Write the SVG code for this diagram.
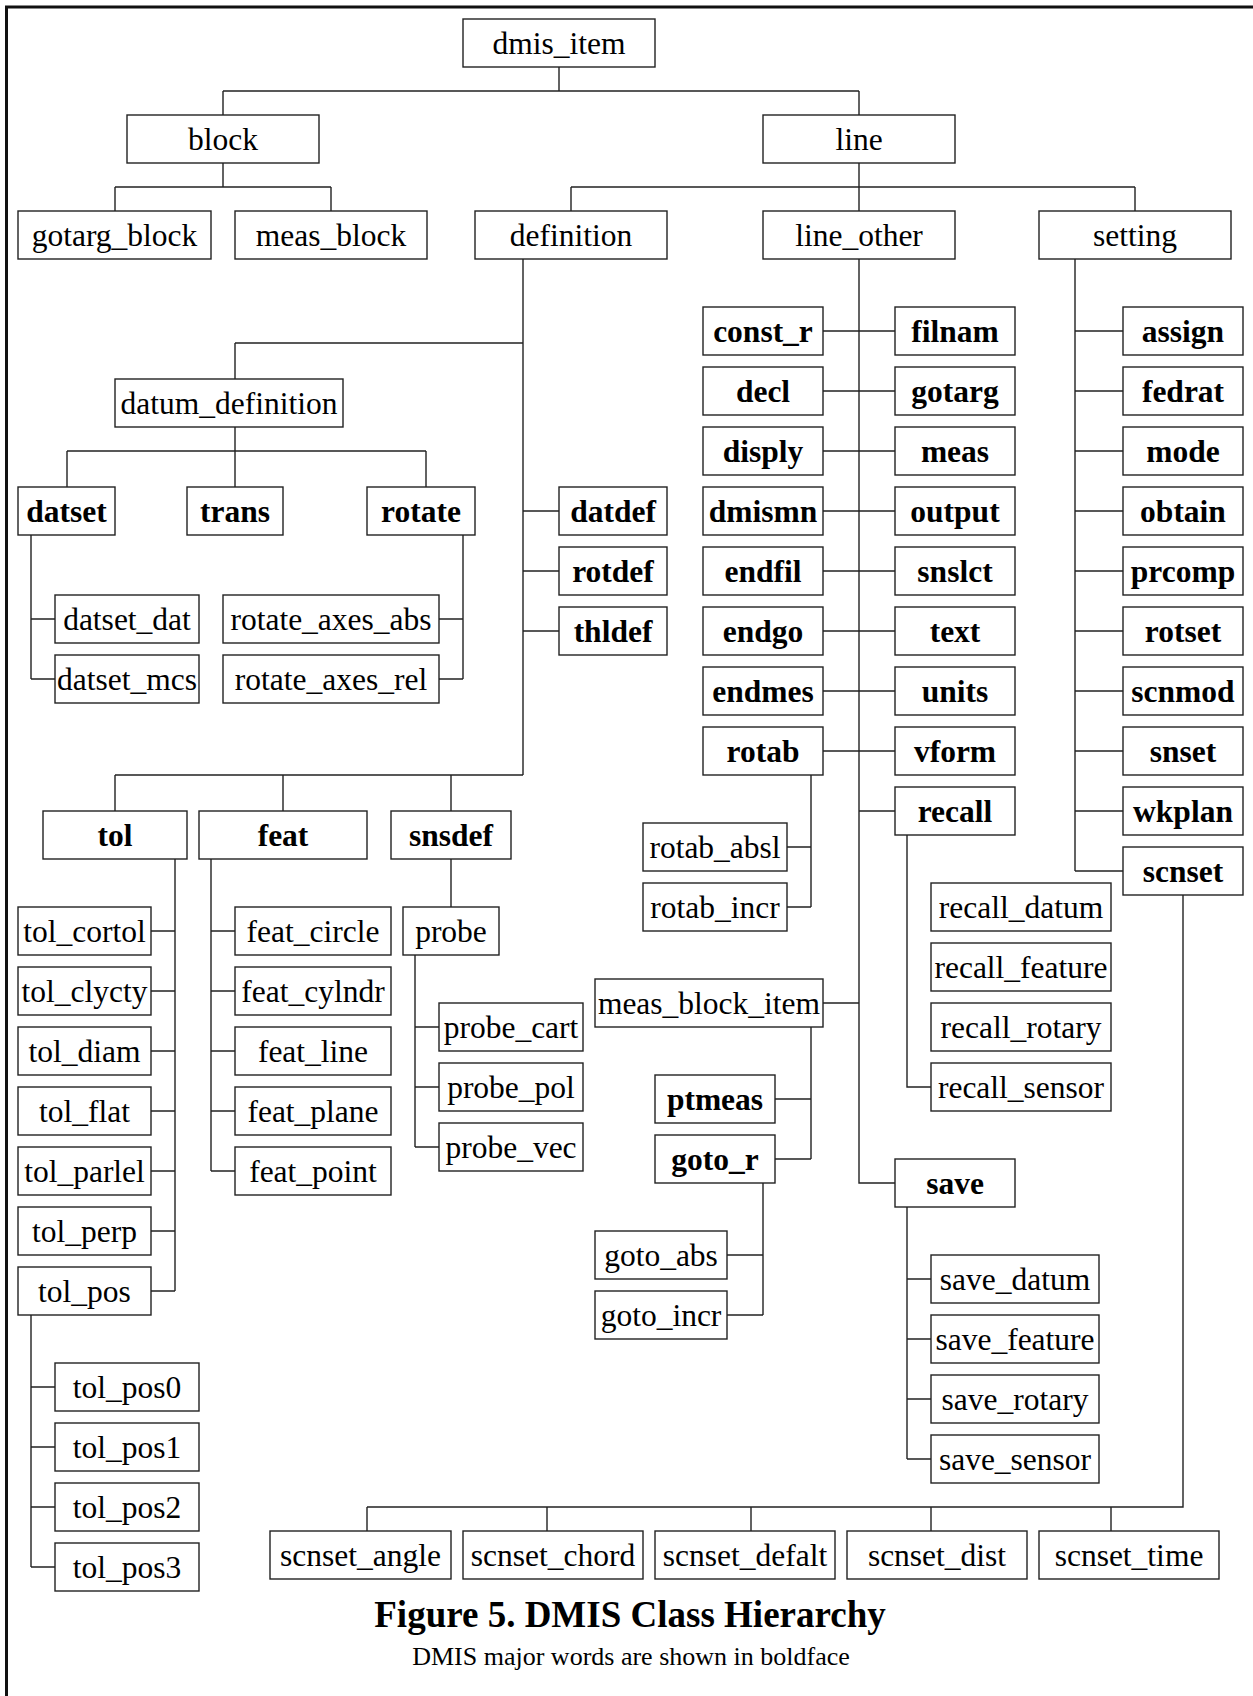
<svg xmlns="http://www.w3.org/2000/svg" width="1253" height="1696" viewBox="0 0 1253 1696">
<style>
rect{fill:#fff;stroke:#222;stroke-width:1.4}
text{font-family:"Liberation Serif","Times New Roman",serif;font-size:31.5px;fill:#000;text-anchor:middle}
.b text{font-weight:bold}
#connectors path{fill:none;stroke:#222;stroke-width:1.4}
.frame{fill:none;stroke:#111;stroke-width:3}
</style>
<path class="frame" d="M6.5,1696 V7 H1253"/>
<g id="connectors">
<path d="M559,67 V91 M223,91 H859 M223,91 V115 M859,91 V115"/>
<path d="M223,163 V187 M115,187 H331 M115,187 V211 M331,187 V211"/>
<path d="M859,163 V211 M571,187 H1135 M571,187 V211 M1135,187 V211"/>
<path d="M523,259 V775 M235,343 H523 M235,343 V379"/>
<path d="M235,427 V487 M67,451 H426 M67,451 V487 M426,451 V487"/>
<path d="M31,535 V679 M31,619 H55 M31,679 H55"/>
<path d="M463,535 V679 M439,619 H463 M439,679 H463"/>
<path d="M523,511 H559 M523,571 H559 M523,631 H559"/>
<path d="M115,775 H523 M115,775 V811 M283,775 V811 M451,775 V811"/>
<path d="M175,859 V1291 M151,931 H175 M151,991 H175 M151,1051 H175 M151,1111 H175 M151,1171 H175 M151,1231 H175 M151,1291 H175"/>
<path d="M31,1315 V1567 M31,1387 H55 M31,1447 H55 M31,1507 H55 M31,1567 H55"/>
<path d="M211,859 V1171 M211,931 H235 M211,991 H235 M211,1051 H235 M211,1111 H235 M211,1171 H235"/>
<path d="M451,859 V907"/>
<path d="M415,955 V1147 M415,1027 H439 M415,1087 H439 M415,1147 H439"/>
<path d="M859,259 V1183 H895"/>
<path d="M823,331 H895 M823,391 H895 M823,451 H895 M823,511 H895 M823,571 H895 M823,631 H895 M823,691 H895 M823,751 H895 M859,811 H895"/>
<path d="M811,775 V907 M787,847 H811 M787,907 H811"/>
<path d="M907,835 V1087 H931"/>
<path d="M823,1003 H859 M811,1027 V1159 M775,1099 H811 M775,1159 H811"/>
<path d="M763,1183 V1315 M727,1255 H763 M727,1315 H763"/>
<path d="M907,1207 V1459 M907,1279 H931 M907,1339 H931 M907,1399 H931 M907,1459 H931"/>
<path d="M1075,259 V871 M1075,331 H1123 M1075,391 H1123 M1075,451 H1123 M1075,511 H1123 M1075,571 H1123 M1075,631 H1123 M1075,691 H1123 M1075,751 H1123 M1075,811 H1123 M1075,871 H1123"/>
<path d="M1183,895 V1507 H367 M367,1507 V1531 M547,1507 V1531 M751,1507 V1531 M931,1507 V1531 M1111,1507 V1531"/>
</g>
<g id="n-dmis_item"><rect x="463" y="19" width="192" height="48"/><text x="559" y="54">dmis_item</text></g>
<g id="n-block"><rect x="127" y="115" width="192" height="48"/><text x="223" y="150">block</text></g>
<g id="n-line"><rect x="763" y="115" width="192" height="48"/><text x="859" y="150">line</text></g>
<g id="n-gotarg_block"><rect x="18" y="211" width="193" height="48"/><text x="114.5" y="246">gotarg_block</text></g>
<g id="n-meas_block"><rect x="235" y="211" width="192" height="48"/><text x="331" y="246">meas_block</text></g>
<g id="n-definition"><rect x="475" y="211" width="192" height="48"/><text x="571" y="246">definition</text></g>
<g id="n-line_other"><rect x="763" y="211" width="192" height="48"/><text x="859" y="246">line_other</text></g>
<g id="n-setting"><rect x="1039" y="211" width="192" height="48"/><text x="1135" y="246">setting</text></g>
<g id="n-datum_definition"><rect x="115" y="379" width="228" height="48"/><text x="229" y="414">datum_definition</text></g>
<g id="n-datset" class="b"><rect x="18" y="487" width="97" height="48"/><text x="66.5" y="522">datset</text></g>
<g id="n-trans" class="b"><rect x="187" y="487" width="96" height="48"/><text x="235" y="522">trans</text></g>
<g id="n-rotate" class="b"><rect x="367" y="487" width="108" height="48"/><text x="421" y="522">rotate</text></g>
<g id="n-datset_dat"><rect x="55" y="595" width="144" height="48"/><text x="127" y="630">datset_dat</text></g>
<g id="n-datset_mcs"><rect x="55" y="655" width="144" height="48"/><text x="127" y="690">datset_mcs</text></g>
<g id="n-rotate_axes_abs"><rect x="223" y="595" width="216" height="48"/><text x="331" y="630">rotate_axes_abs</text></g>
<g id="n-rotate_axes_rel"><rect x="223" y="655" width="216" height="48"/><text x="331" y="690">rotate_axes_rel</text></g>
<g id="n-datdef" class="b"><rect x="559" y="487" width="108" height="48"/><text x="613" y="522">datdef</text></g>
<g id="n-rotdef" class="b"><rect x="559" y="547" width="108" height="48"/><text x="613" y="582">rotdef</text></g>
<g id="n-thldef" class="b"><rect x="559" y="607" width="108" height="48"/><text x="613" y="642">thldef</text></g>
<g id="n-tol" class="b"><rect x="43" y="811" width="144" height="48"/><text x="115" y="846">tol</text></g>
<g id="n-feat" class="b"><rect x="199" y="811" width="168" height="48"/><text x="283" y="846">feat</text></g>
<g id="n-snsdef" class="b"><rect x="391" y="811" width="120" height="48"/><text x="451" y="846">snsdef</text></g>
<g id="n-tol_cortol"><rect x="18" y="907" width="133" height="48"/><text x="84.5" y="942">tol_cortol</text></g>
<g id="n-tol_clycty"><rect x="18" y="967" width="133" height="48"/><text x="84.5" y="1002">tol_clycty</text></g>
<g id="n-tol_diam"><rect x="18" y="1027" width="133" height="48"/><text x="84.5" y="1062">tol_diam</text></g>
<g id="n-tol_flat"><rect x="18" y="1087" width="133" height="48"/><text x="84.5" y="1122">tol_flat</text></g>
<g id="n-tol_parlel"><rect x="18" y="1147" width="133" height="48"/><text x="84.5" y="1182">tol_parlel</text></g>
<g id="n-tol_perp"><rect x="18" y="1207" width="133" height="48"/><text x="84.5" y="1242">tol_perp</text></g>
<g id="n-tol_pos"><rect x="18" y="1267" width="133" height="48"/><text x="84.5" y="1302">tol_pos</text></g>
<g id="n-tol_pos0"><rect x="55" y="1363" width="144" height="48"/><text x="127" y="1398">tol_pos0</text></g>
<g id="n-tol_pos1"><rect x="55" y="1423" width="144" height="48"/><text x="127" y="1458">tol_pos1</text></g>
<g id="n-tol_pos2"><rect x="55" y="1483" width="144" height="48"/><text x="127" y="1518">tol_pos2</text></g>
<g id="n-tol_pos3"><rect x="55" y="1543" width="144" height="48"/><text x="127" y="1578">tol_pos3</text></g>
<g id="n-feat_circle"><rect x="235" y="907" width="156" height="48"/><text x="313" y="942">feat_circle</text></g>
<g id="n-feat_cylndr"><rect x="235" y="967" width="156" height="48"/><text x="313" y="1002">feat_cylndr</text></g>
<g id="n-feat_line"><rect x="235" y="1027" width="156" height="48"/><text x="313" y="1062">feat_line</text></g>
<g id="n-feat_plane"><rect x="235" y="1087" width="156" height="48"/><text x="313" y="1122">feat_plane</text></g>
<g id="n-feat_point"><rect x="235" y="1147" width="156" height="48"/><text x="313" y="1182">feat_point</text></g>
<g id="n-probe"><rect x="403" y="907" width="96" height="48"/><text x="451" y="942">probe</text></g>
<g id="n-probe_cart"><rect x="439" y="1003" width="144" height="48"/><text x="511" y="1038">probe_cart</text></g>
<g id="n-probe_pol"><rect x="439" y="1063" width="144" height="48"/><text x="511" y="1098">probe_pol</text></g>
<g id="n-probe_vec"><rect x="439" y="1123" width="144" height="48"/><text x="511" y="1158">probe_vec</text></g>
<g id="n-const_r" class="b"><rect x="703" y="307" width="120" height="48"/><text x="763" y="342">const_r</text></g>
<g id="n-decl" class="b"><rect x="703" y="367" width="120" height="48"/><text x="763" y="402">decl</text></g>
<g id="n-disply" class="b"><rect x="703" y="427" width="120" height="48"/><text x="763" y="462">disply</text></g>
<g id="n-dmismn" class="b"><rect x="703" y="487" width="120" height="48"/><text x="763" y="522">dmismn</text></g>
<g id="n-endfil" class="b"><rect x="703" y="547" width="120" height="48"/><text x="763" y="582">endfil</text></g>
<g id="n-endgo" class="b"><rect x="703" y="607" width="120" height="48"/><text x="763" y="642">endgo</text></g>
<g id="n-endmes" class="b"><rect x="703" y="667" width="120" height="48"/><text x="763" y="702">endmes</text></g>
<g id="n-rotab" class="b"><rect x="703" y="727" width="120" height="48"/><text x="763" y="762">rotab</text></g>
<g id="n-filnam" class="b"><rect x="895" y="307" width="120" height="48"/><text x="955" y="342">filnam</text></g>
<g id="n-gotarg" class="b"><rect x="895" y="367" width="120" height="48"/><text x="955" y="402">gotarg</text></g>
<g id="n-meas" class="b"><rect x="895" y="427" width="120" height="48"/><text x="955" y="462">meas</text></g>
<g id="n-output" class="b"><rect x="895" y="487" width="120" height="48"/><text x="955" y="522">output</text></g>
<g id="n-snslct" class="b"><rect x="895" y="547" width="120" height="48"/><text x="955" y="582">snslct</text></g>
<g id="n-text" class="b"><rect x="895" y="607" width="120" height="48"/><text x="955" y="642">text</text></g>
<g id="n-units" class="b"><rect x="895" y="667" width="120" height="48"/><text x="955" y="702">units</text></g>
<g id="n-vform" class="b"><rect x="895" y="727" width="120" height="48"/><text x="955" y="762">vform</text></g>
<g id="n-recall" class="b"><rect x="895" y="787" width="120" height="48"/><text x="955" y="822">recall</text></g>
<g id="n-assign" class="b"><rect x="1123" y="307" width="120" height="48"/><text x="1183" y="342">assign</text></g>
<g id="n-fedrat" class="b"><rect x="1123" y="367" width="120" height="48"/><text x="1183" y="402">fedrat</text></g>
<g id="n-mode" class="b"><rect x="1123" y="427" width="120" height="48"/><text x="1183" y="462">mode</text></g>
<g id="n-obtain" class="b"><rect x="1123" y="487" width="120" height="48"/><text x="1183" y="522">obtain</text></g>
<g id="n-prcomp" class="b"><rect x="1123" y="547" width="120" height="48"/><text x="1183" y="582">prcomp</text></g>
<g id="n-rotset" class="b"><rect x="1123" y="607" width="120" height="48"/><text x="1183" y="642">rotset</text></g>
<g id="n-scnmod" class="b"><rect x="1123" y="667" width="120" height="48"/><text x="1183" y="702">scnmod</text></g>
<g id="n-snset" class="b"><rect x="1123" y="727" width="120" height="48"/><text x="1183" y="762">snset</text></g>
<g id="n-wkplan" class="b"><rect x="1123" y="787" width="120" height="48"/><text x="1183" y="822">wkplan</text></g>
<g id="n-scnset" class="b"><rect x="1123" y="847" width="120" height="48"/><text x="1183" y="882">scnset</text></g>
<g id="n-rotab_absl"><rect x="643" y="823" width="144" height="48"/><text x="715" y="858">rotab_absl</text></g>
<g id="n-rotab_incr"><rect x="643" y="883" width="144" height="48"/><text x="715" y="918">rotab_incr</text></g>
<g id="n-recall_datum"><rect x="931" y="883" width="180" height="48"/><text x="1021" y="918">recall_datum</text></g>
<g id="n-recall_feature"><rect x="931" y="943" width="180" height="48"/><text x="1021" y="978">recall_feature</text></g>
<g id="n-recall_rotary"><rect x="931" y="1003" width="180" height="48"/><text x="1021" y="1038">recall_rotary</text></g>
<g id="n-recall_sensor"><rect x="931" y="1063" width="180" height="48"/><text x="1021" y="1098">recall_sensor</text></g>
<g id="n-meas_block_item"><rect x="595" y="979" width="228" height="48"/><text x="709" y="1014">meas_block_item</text></g>
<g id="n-ptmeas" class="b"><rect x="655" y="1075" width="120" height="48"/><text x="715" y="1110">ptmeas</text></g>
<g id="n-goto_r" class="b"><rect x="655" y="1135" width="120" height="48"/><text x="715" y="1170">goto_r</text></g>
<g id="n-goto_abs"><rect x="595" y="1231" width="132" height="48"/><text x="661" y="1266">goto_abs</text></g>
<g id="n-goto_incr"><rect x="595" y="1291" width="132" height="48"/><text x="661" y="1326">goto_incr</text></g>
<g id="n-save" class="b"><rect x="895" y="1159" width="120" height="48"/><text x="955" y="1194">save</text></g>
<g id="n-save_datum"><rect x="931" y="1255" width="168" height="48"/><text x="1015" y="1290">save_datum</text></g>
<g id="n-save_feature"><rect x="931" y="1315" width="168" height="48"/><text x="1015" y="1350">save_feature</text></g>
<g id="n-save_rotary"><rect x="931" y="1375" width="168" height="48"/><text x="1015" y="1410">save_rotary</text></g>
<g id="n-save_sensor"><rect x="931" y="1435" width="168" height="48"/><text x="1015" y="1470">save_sensor</text></g>
<g id="n-scnset_angle"><rect x="270" y="1531" width="181" height="48"/><text x="360.5" y="1566">scnset_angle</text></g>
<g id="n-scnset_chord"><rect x="463" y="1531" width="180" height="48"/><text x="553" y="1566">scnset_chord</text></g>
<g id="n-scnset_defalt"><rect x="655" y="1531" width="180" height="48"/><text x="745" y="1566">scnset_defalt</text></g>
<g id="n-scnset_dist"><rect x="847" y="1531" width="180" height="48"/><text x="937" y="1566">scnset_dist</text></g>
<g id="n-scnset_time"><rect x="1039" y="1531" width="180" height="48"/><text x="1129" y="1566">scnset_time</text></g>
<text x="630" y="1627" style="font-weight:bold;font-size:37px">Figure 5. DMIS Class Hierarchy</text>
<text x="631" y="1665" style="font-size:26px">DMIS major words are shown in boldface</text>
</svg>
